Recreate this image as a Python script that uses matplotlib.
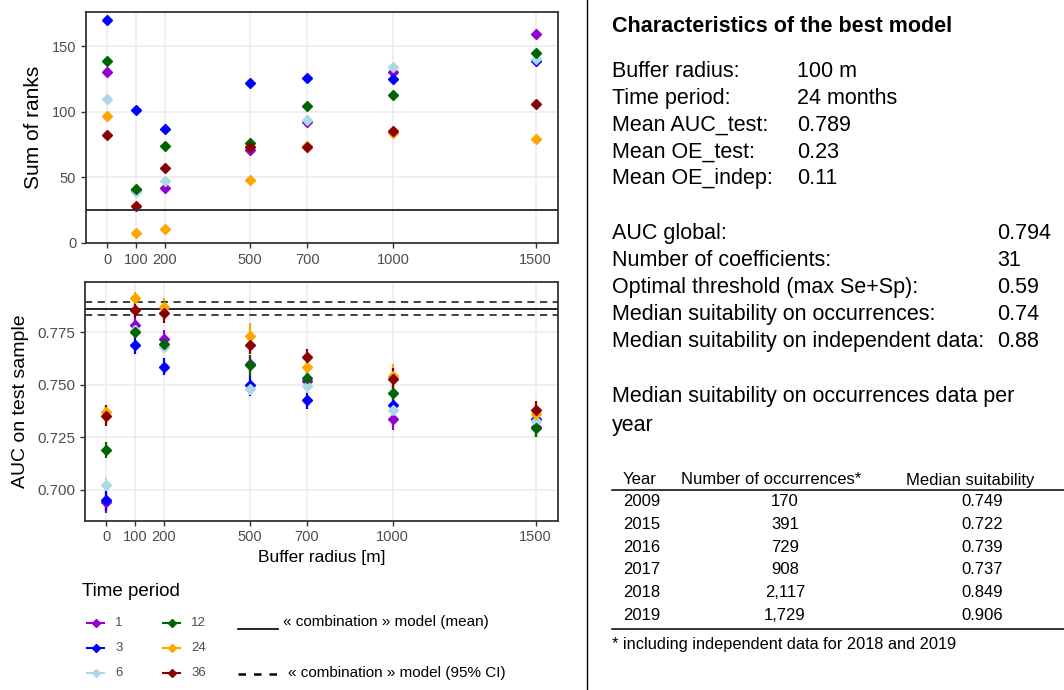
import matplotlib
matplotlib.use("Agg")
import matplotlib.pyplot as plt
from matplotlib.lines import Line2D

plt.rcParams["font.family"] = ["Liberation Sans", "DejaVu Sans"]

# ── Data ──────────────────────────────────────────────────────────────────────
buffers = [0, 100, 200, 500, 700, 1000, 1500]
periods = ["1", "3", "6", "12", "24", "36"]
colors = ["#9400D3", "#0000FF", "#ADD8E6", "#006400", "#FFA500", "#8B0000"]

ranks_1 = [130, 40, 42, 71, 92, 130, 159]
ranks_3 = [170, 101, 87, 122, 126, 125, 139]
ranks_6 = [110, 39, 47, 74, 94, 134, 140]
ranks_12 = [139, 41, 74, 76, 104, 113, 145]
ranks_24 = [97, 8, 11, 48, 74, 84, 79]
ranks_36 = [82, 28, 57, 73, 73, 85, 106]
ranks_best = 25

auc_1 = [0.694, 0.7785, 0.772, 0.760, 0.752, 0.7336, 0.730]
auc_3 = [0.695, 0.7688, 0.7586, 0.7498, 0.7426, 0.7406, 0.7336]
auc_6 = [0.7025, 0.776, 0.768, 0.7482, 0.7493, 0.7379, 0.733]
auc_12 = [0.719, 0.7753, 0.7697, 0.7594, 0.7533, 0.7461, 0.7294]
auc_24 = [0.737, 0.7913, 0.7872, 0.7734, 0.7586, 0.7541, 0.7363]
auc_36 = [0.7353, 0.7857, 0.7844, 0.7689, 0.7633, 0.753, 0.7382]

err_1 = [0.005, 0.004, 0.004, 0.004, 0.004, 0.005, 0.005]
err_3 = [0.005, 0.004, 0.004, 0.005, 0.004, 0.004, 0.003]
err_6 = [0.003, 0.003, 0.003, 0.003, 0.003, 0.003, 0.003]
err_12 = [0.004, 0.003, 0.004, 0.005, 0.004, 0.004, 0.004]
err_24 = [0.003, 0.003, 0.004, 0.006, 0.004, 0.006, 0.004]
err_36 = [0.005, 0.004, 0.005, 0.004, 0.004, 0.005, 0.004]

comb_mean = 0.786
comb_ci = [0.7831, 0.7896]

ranks = [ranks_1, ranks_3, ranks_6, ranks_12, ranks_24, ranks_36]
aucs = [auc_1, auc_3, auc_6, auc_12, auc_24, auc_36]
errs = [err_1, err_3, err_6, err_12, err_24, err_36]

best_rows = [("Buffer radius:", "100 m"), ("Time period:", "24 months"),
             ("Mean AUC_test:", "0.789"), ("Mean OE_test:", "0.23"),
             ("Mean OE_indep:", "0.11")]
global_rows = [("AUC global:", "0.794"), ("Number of coefficients:", "31"),
               ("Optimal threshold (max Se+Sp):", "0.59"),
               ("Median suitability on occurrences:", "0.74"),
               ("Median suitability on independent data:", "0.88")]
years = ["2009", "2015", "2016", "2017", "2018", "2019"]
n_occ = ["170", "391", "729", "908", "2,117", "1,729"]
med_suit = ["0.749", "0.722", "0.739", "0.737", "0.849", "0.906"]

# ── Figure ────────────────────────────────────────────────────────────────────
W, H = 1064, 690
fig = plt.figure(figsize=(W / 100, H / 100), dpi=100, facecolor="white")


def px(x, y):
    return x / W, 1 - y / H


GRID = "#ebebeb"
TICK = "#4d4d4d"
BORDER = "#333333"


def style_axes(ax):
    ax.set_facecolor("white")
    ax.grid(True, color=GRID, lw=1.1)
    ax.set_axisbelow(True)
    for sp in ax.spines.values():
        sp.set_color(BORDER)
        sp.set_linewidth(1.3)
    ax.tick_params(colors=BORDER, labelcolor=TICK, labelsize=10.5, length=3.5, width=1)
    ax.set_xticks(buffers)
    ax.set_xlim(-75, 1578)


# top panel
ax1 = fig.add_axes([86 / W, 1 - 243 / H, 472 / W, 231 / H])
style_axes(ax1)
for r, c in zip(ranks, colors):
    ax1.plot(buffers, r, "D", color=c, ms=5.5, mec=c, ls="none")
ax1.axhline(ranks_best, color=BORDER, lw=1.4)
ax1.set_ylim(0, 176)
ax1.set_yticks([0, 50, 100, 150])
ax1.set_ylabel("Sum of ranks", fontsize=15, labelpad=6)

# bottom panel
ax2 = fig.add_axes([85 / W, 1 - 520.7 / H, 473 / W, 238.4 / H])
style_axes(ax2)
for a, e, c in zip(aucs, errs, colors):
    ax2.errorbar(buffers, a, yerr=e, fmt="D", color=c, ms=5.5, mec=c,
                 elinewidth=1.6, capsize=0)
ax2.axhline(comb_mean, color="black", lw=1.2)
for v in comb_ci:
    ax2.axhline(v, color="#333333", lw=1.3, ls=(0, (4, 3)))
ax2.set_ylim(0.6853, 0.7989)
ax2.set_yticks([0.700, 0.725, 0.750, 0.775])
ax2.set_yticklabels(["0.700", "0.725", "0.750", "0.775"])
ax2.tick_params(axis="y", labelsize=11)
ax2.set_ylabel("AUC on test sample", fontsize=14, labelpad=6)
ax2.set_xlabel("Buffer radius [m]", fontsize=12.5, labelpad=4)

# legend (hand-built)
fig.text(*px(82, 591), "Time period", fontsize=13.5, va="center", ha="left")
leg_rows = [623.3, 648.3, 673.3]
for i, (p, c) in enumerate(zip(periods, colors)):
    col, row = divmod(i, 3)
    x0 = 87 if col == 0 else 163
    y = leg_rows[row]
    fig.add_artist(Line2D([x0 / W, (x0 + 17) / W], [1 - y / H] * 2, color=c, lw=1.5,
                          transform=fig.transFigure))
    fig.add_artist(Line2D([(x0 + 8.5) / W], [1 - y / H], color=c, marker="D", ms=4.5,
                          ls="none", transform=fig.transFigure))
    fig.text(*px(x0 + 28, y), p, fontsize=9.5, color=TICK, va="center", ha="left")

fig.add_artist(Line2D([238 / W, 278 / W], [1 - 628.5 / H] * 2, color="black", lw=1.2,
                      transform=fig.transFigure))
fig.text(*px(283, 621.7), "« combination » model (mean)", fontsize=11, va="center")
fig.add_artist(Line2D([238 / W, 278 / W], [1 - 674 / H] * 2, color="black", lw=1.8,
                      ls=(0, (3, 3.2)), transform=fig.transFigure))
fig.text(*px(288, 673.3), "« combination » model (95% CI)", fontsize=11, va="center")

# divider
fig.add_artist(Line2D([587 / W] * 2, [0, 1], color="black", lw=1,
                      transform=fig.transFigure))

# ── Right side text ───────────────────────────────────────────────────────────
RFS = 15.5
fig.text(*px(612, 27), "Characteristics of the best model", fontsize=RFS,
         fontweight="bold", va="center")
for i, (k, v) in enumerate(best_rows):
    y = 71.7 + i * 26.8
    fig.text(*px(612, y), k, fontsize=RFS, va="center")
    fig.text(*px(797, y), v, fontsize=RFS, va="center")
for i, (k, v) in enumerate(global_rows):
    y = 233.3 + i * 27.1
    fig.text(*px(612, y), k, fontsize=RFS, va="center")
    fig.text(*px(997, y), v, fontsize=RFS, va="center")
fig.text(*px(612, 396.7), "Median suitability on occurrences data per", fontsize=RFS,
         va="center")
fig.text(*px(612, 425), "year", fontsize=RFS, va="center")

# table
TFS = 12
fig.text(*px(623, 480), "Year", fontsize=TFS, va="center")
fig.text(*px(771, 480), "Number of occurrences*", fontsize=TFS, va="center",
         ha="center")
fig.text(*px(970, 480), "Median suitability", fontsize=TFS, va="center",
         ha="center")
for i, (yr, n, m) in enumerate(zip(years, n_occ, med_suit)):
    y = 501.7 + i * 22.66
    fig.text(*px(623, y), yr, fontsize=TFS, va="center")
    fig.text(*px(785, y), n, fontsize=TFS, va="center", ha="center")
    fig.text(*px(982, y), m, fontsize=TFS, va="center", ha="center")
for yl in (489.5, 628.5):
    fig.add_artist(Line2D([612 / W, 1.0], [1 - yl / H] * 2, color="black", lw=1.1,
                          transform=fig.transFigure))
fig.text(*px(612, 644), "* including independent data for 2018 and 2019", fontsize=11.8,
         va="center")

fig.savefig("out.png", dpi=100, facecolor="white")
